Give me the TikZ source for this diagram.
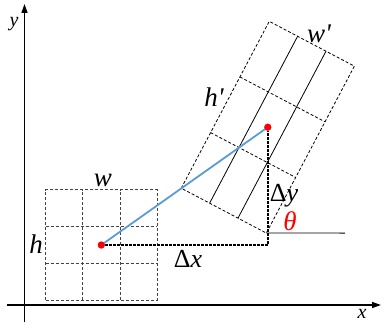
\documentclass[tikz,border=0pt]{standalone}
\usepackage{fontspec}
\setmainfont{Liberation Serif}
\usetikzlibrary{arrows.meta, calc}
\definecolor{linkblue}{HTML}{5B9BD5}
\definecolor{dotred}{HTML}{FF0000}
\definecolor{cellgray}{HTML}{444444}
\tikzset{
  axis/.style={line width=1.4pt, -{Triangle[length=9pt,width=6pt]}},
  cellline/.style={dash pattern=on 3pt off 2pt, line width=0.8pt, draw=#1},
  cellline/.default=black,
  offset/.style={dash pattern=on 2.5pt off 1.5pt, line width=1.8pt},
  center/.style={circle, fill=dotred, minimum size=7pt, inner sep=0pt},
  sym/.style={anchor=base, inner sep=0pt, font=\fontsize{27}{30}\selectfont\itshape},
  axlabel/.style={anchor=base, inner sep=0pt, font=\fontsize{20}{24}\selectfont\itshape}
}

\begin{document}
\begin{tikzpicture}[x=1pt, y=1pt]
  \useasboundingbox (0,0) rectangle (388,327);

  % Axes
  \coordinate (origin) at (24.5,22);
  \coordinate (xend) at (381,22);
  \coordinate (xstart) at (7,22);
  \coordinate (yend) at (24.5,323);
  \coordinate (ystart) at (24.5,5);
  \draw[axis] (xstart) -- (xend);
  \draw[axis] (ystart) -- (yend);
  \node[axlabel] (xlab) at (362,9) {x};
  \node[axlabel] (ylab) at (14,300) {y};

  % Original box
  \begin{scope}[shift={(45.7,27)}]
    \draw[cellline=cellgray] (0,0) rectangle (111.3,110.3);
    \foreach \i in {1,2} {
      \draw[cellline=cellgray] (37.1*\i,0) -- (37.1*\i,110.3);
      \draw[cellline=cellgray] (0,36.77*\i) -- (111.3,36.77*\i);
    }
  \end{scope}
  \node[center] (dotA) at (101.3,82) {};
  \node[sym] (wlab) at (103,140) {w};
  \node[sym] (hlab) at (36,74) {h};

  % Rotated box
  \begin{scope}[shift={(267.8,199.8)}, rotate=-27.8]
    \draw[cellline] (-48.1,-94.35) rectangle (48.1,94.35);
    \foreach \s in {-1,1} {
      \draw[line width=0.8pt] (16.03*\s,-94.35) -- (16.03*\s,94.35);
      \draw[cellline] (-48.1,31.45*\s) -- (48.1,31.45*\s);
    }
    \coordinate (pivot) at (48.1,-94.35);
  \end{scope}
  \node[center] (dotB) at (267.8,199.8) {};
  \node[sym] (wplab) at (319,284) {w\textquotesingle};
  \node[sym] (hplab) at (214,220) {h\textquotesingle};

  % Offsets and angle
  \coordinate (elbow) at (dotB |- dotA);
  \coordinate (thetaend) at (345,93.9);
  \draw[offset] (dotA) -- (elbow) -- (dotB);
  \draw[line width=0.8pt] (pivot) -- (thetaend);
  \draw[linkblue, line width=1.8pt] (dotA.center) -- (dotB.center);
  \node[center] at (dotA) {};
  \node[center] at (dotB) {};
  \node[sym, font=\fontsize{26}{30}\selectfont] (dxlab) at (188,60) {Δ\textit{x}};
  \node[sym, font=\fontsize{26}{30}\selectfont] (dylab) at (284,125) {Δ\textit{y}};
  \node[sym, text=dotred] (thlab) at (290,97) {θ};
\end{tikzpicture}
\end{document}
